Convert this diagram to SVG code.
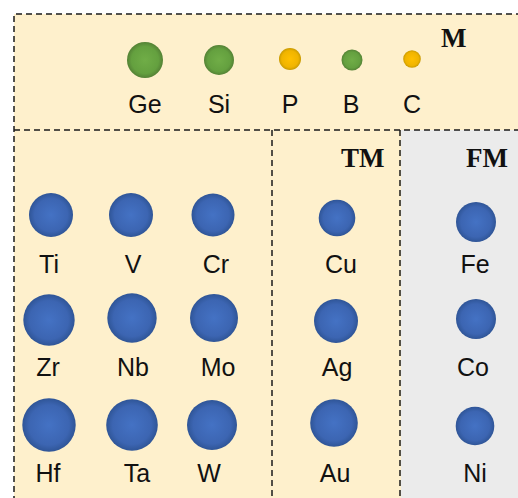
<svg xmlns="http://www.w3.org/2000/svg" width="518" height="498" viewBox="0 0 518 498">
<defs>
<radialGradient id="gb" cx="50%" cy="50%" r="50%">
<stop offset="0" stop-color="#4472c4"/>
<stop offset="0.75" stop-color="#3c65b2"/>
<stop offset="1" stop-color="#2f5597"/>
</radialGradient>
<radialGradient id="gg" cx="50%" cy="50%" r="50%">
<stop offset="0" stop-color="#70ad47"/>
<stop offset="0.75" stop-color="#64a03f"/>
<stop offset="1" stop-color="#548235"/>
</radialGradient>
<radialGradient id="gy" cx="50%" cy="50%" r="50%">
<stop offset="0" stop-color="#ffc000"/>
<stop offset="0.75" stop-color="#f0b400"/>
<stop offset="1" stop-color="#c99a00"/>
</radialGradient>
</defs>
<style>
.bd{fill:none;stroke:#1a1a1a;stroke-width:1.5;stroke-dasharray:6 4}
.lb{font-family:"Liberation Sans",Arial,sans-serif;font-size:25px;fill:#111;text-anchor:middle}
.hd{font-family:"Liberation Serif","Times New Roman",serif;font-size:27px;font-weight:bold;fill:#111}
.b{fill:url(#gb)}
.g{fill:url(#gg)}
.y{fill:url(#gy)}
</style>
<rect width="518" height="498" fill="#fff"/>
<rect x="14" y="14" width="510" height="116" fill="#fef0cc"/>
<rect x="14" y="130" width="387" height="372" fill="#fef0cc"/>
<rect x="401" y="130" width="123" height="372" fill="#ebebeb"/>
<g id="borders">
<path class="bd" d="M14 502 V14 H524"/>
<path class="bd" d="M14 130 H524"/>
<path class="bd" d="M272 130 V502"/>
<path class="bd" d="M400 130 V502"/>
</g>
<g id="headers">
<text class="hd" x="441" y="47">M</text>
<text class="hd" x="341" y="167">TM</text>
<text class="hd" x="466" y="167">FM</text>
</g>
<g id="Ge"><circle class="g" cx="145" cy="60" r="18"/><text class="lb" x="145" y="113">Ge</text></g>
<g id="Si"><circle class="g" cx="219" cy="60" r="15"/><text class="lb" x="219" y="113">Si</text></g>
<g id="P"><circle class="y" cx="290" cy="59" r="11"/><text class="lb" x="290" y="113">P</text></g>
<g id="B"><circle class="g" cx="352" cy="60" r="10.5"/><text class="lb" x="351" y="113">B</text></g>
<g id="C"><circle class="y" cx="412" cy="59" r="8.8"/><text class="lb" x="412" y="113">C</text></g>
<g id="Ti"><circle class="b" cx="51" cy="215" r="22"/><text class="lb" x="49" y="273">Ti</text></g>
<g id="V"><circle class="b" cx="131" cy="215" r="22"/><text class="lb" x="133" y="273">V</text></g>
<g id="Cr"><circle class="b" cx="213" cy="215" r="21.5"/><text class="lb" x="216" y="273">Cr</text></g>
<g id="Cu"><circle class="b" cx="337" cy="218" r="18.3"/><text class="lb" x="341" y="273">Cu</text></g>
<g id="Fe"><circle class="b" cx="476" cy="222" r="20"/><text class="lb" x="475" y="273">Fe</text></g>
<g id="Zr"><circle class="b" cx="49" cy="320" r="25.7"/><text class="lb" x="48" y="376">Zr</text></g>
<g id="Nb"><circle class="b" cx="132" cy="318" r="24.7"/><text class="lb" x="133" y="376">Nb</text></g>
<g id="Mo"><circle class="b" cx="214" cy="318" r="24"/><text class="lb" x="218" y="376">Mo</text></g>
<g id="Ag"><circle class="b" cx="336" cy="321" r="22"/><text class="lb" x="337" y="376">Ag</text></g>
<g id="Co"><circle class="b" cx="476" cy="319" r="20"/><text class="lb" x="473" y="376">Co</text></g>
<g id="Hf"><circle class="b" cx="49" cy="425" r="26.7"/><text class="lb" x="48" y="482">Hf</text></g>
<g id="Ta"><circle class="b" cx="132" cy="425" r="25.8"/><text class="lb" x="137" y="482">Ta</text></g>
<g id="W"><circle class="b" cx="212" cy="425" r="25"/><text class="lb" x="209" y="482">W</text></g>
<g id="Au"><circle class="b" cx="334" cy="423" r="23.8"/><text class="lb" x="335" y="482">Au</text></g>
<g id="Ni"><circle class="b" cx="475" cy="426" r="19.3"/><text class="lb" x="475" y="482">Ni</text></g>
</svg>
